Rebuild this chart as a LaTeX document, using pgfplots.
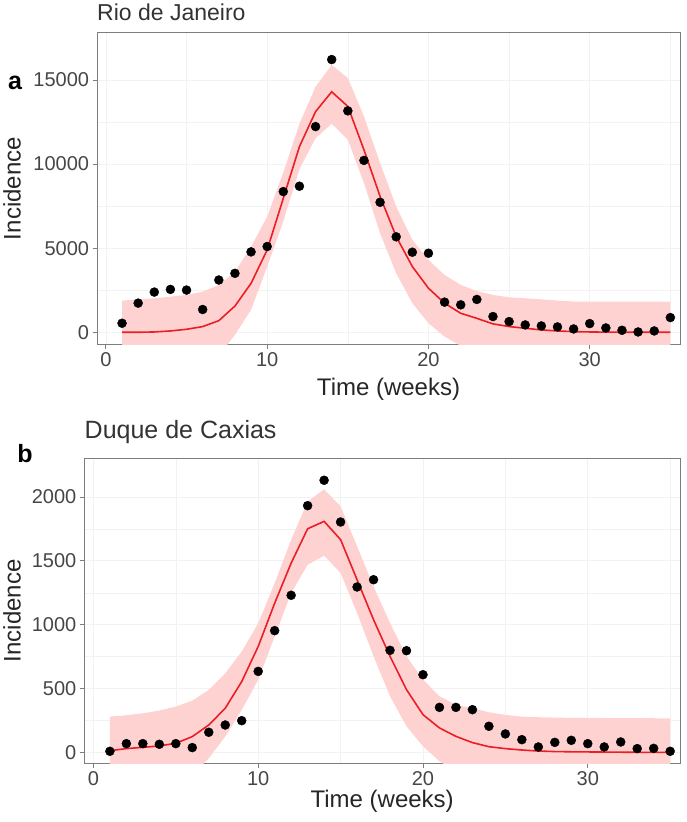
\documentclass[border=0pt]{standalone}
\usepackage{pgfplots}
\pgfplotsset{compat=1.18}
\usepackage{pgfplotstable}
\usepackage{fontspec}
\setmainfont{Liberation Sans}
\definecolor{ribbon}{RGB}{255,210,210}
\definecolor{fitred}{RGB}{234,30,36}
\definecolor{tickgrey}{RGB}{70,70,70}
\definecolor{framegrey}{RGB}{125,125,125}
\definecolor{gridgrey}{RGB}{242,242,242}

% Rio de Janeiro: observed and fitted mean
\pgfplotstableread{
t obs mean
1 538 0
2 1733 0
3 2390 20
4 2550 80
5 2510 180
6 1355 340
7 3108 690
8 3506 1560
9 4781 2910
10 5100 4900
11 8367 7970
12 8685 11040
13 12231 13120
14 16215 14300
15 13167 13430
16 10219 10850
17 7729 8080
18 5677 5690
19 4761 3910
20 4701 2620
21 1793 1730
22 1633 1130
23 1952 830
24 936 500
25 637 340
26 438 240
27 378 140
28 319 80
29 199 40
30 518 20
31 259 10
32 120 5
33 20 0
34 80 0
35 876 0
}\rio

% Rio de Janeiro: band (upper forward, lower backward)
\pgfplotstableread{
t y
1 1880
2 1960
3 2020
4 2120
5 2220
6 2420
7 2810
8 3600
9 5090
10 6880
11 9500
12 12400
13 14600
14 15900
15 15120
16 12840
17 10060
18 7480
19 5500
20 4300
21 3410
22 2820
23 2450
24 2220
25 2080
26 2020
27 1960
28 1890
29 1830
30 1830
31 1830
32 1830
33 1830
34 1830
35 1830
35 -1400
34 -1400
33 -1400
32 -1400
31 -1400
30 -1400
29 -1400
28 -1400
27 -1400
26 -1400
25 -1300
24 -1200
23 -1000
22 -800
21 -260
20 540
19 1730
18 3510
17 5890
16 8870
15 11450
14 12400
13 11540
12 9700
11 6600
10 3900
9 1330
8 -150
7 -1400
6 -1900
5 -2000
4 -2000
3 -2000
2 -2000
1 -2000
}\rioband

% Duque de Caxias: observed and fitted mean
\pgfplotstableread{
t obs mean
1 8 13
2 68 29
3 68 39
4 63 50
5 68 71
6 37 123
7 157 214
8 214 345
9 248 554
10 634 829
11 953 1168
12 1230 1482
13 1932 1751
14 2131 1809
15 1804 1666
16 1295 1352
17 1352 1039
18 799 752
19 796 491
20 608 295
21 352 191
22 352 125
23 334 76
24 204 44
25 144 29
26 99 18
27 42 10
28 78 6
29 94 4
30 68 3
31 42 2
32 81 1
33 29 0
34 31 0
35 8 0
}\caxias

% Duque de Caxias: band (upper forward, lower backward)
\pgfplotstableread{
t y
1 280
2 290
3 306
4 327
5 358
6 405
7 489
8 619
9 789
10 1011
11 1325
12 1665
13 1965
14 2060
15 1927
16 1614
17 1300
18 1013
19 752
20 569
21 439
22 373
23 345
24 314
25 293
26 280
27 275
28 272
29 270
30 270
31 268
32 268
33 267
34 267
35 265
35 -250
34 -250
33 -250
32 -250
31 -250
30 -250
29 -250
28 -250
27 -250
26 -240
25 -230
24 -220
23 -200
22 -150
21 -70
20 47
19 204
18 439
17 752
16 1091
15 1405
14 1540
13 1469
12 1247
11 907
10 567
9 332
8 123
7 -47
6 -180
5 -240
4 -250
3 -250
2 -250
1 -250
}\caxiasband

\pgfplotsset{
  myaxis/.style={
    scale only axis, anchor=south west,
    axis line style={framegrey, line width=1pt},
    tick align=outside, xtick pos=bottom, ytick pos=left,
    major tick length=4.5pt, minor tick length=0pt,
    major tick style={framegrey, line width=0.9pt},
    tick label style={font=\fontsize{20}{24}\selectfont, text=tickgrey},
    /pgf/number format/assume math mode=true,
    /pgf/number format/fixed,
    /pgf/number format/1000 sep={},
    scaled y ticks=false,
    label style={font=\fontsize{24}{28}\selectfont, text=black!85},
    grid=both,
    major grid style={gridgrey, line width=0.7pt},
    minor grid style={gridgrey, line width=0.4pt},
    xtick={0,10,20,30}, minor xtick={5,15,25,35},
    xmin=-0.55, xmax=35.6,
    xlabel={Time (weeks)}, ylabel={Incidence},
  }
}

\begin{document}
\begin{tikzpicture}
\path (0,0) rectangle (685pt,822pt);

\begin{axis}[myaxis,
  at={(96pt,477pt)}, width=583pt, height=312.7pt,
  ymin=-755, ymax=17836,
  ytick={0,5000,10000,15000}, minor ytick={2500,7500,12500},
  xlabel style={at={(axis description cs:0.5,-0.16)}, anchor=base},
  ylabel style={at={(axis description cs:-0.1309,0.5)}, anchor=base},
]
\addplot[fill=ribbon, draw=none] table[x=t,y=y]{\rioband};
\addplot[fitred, line width=1.6pt, no marks] table[x=t,y=mean]{\rio};
\addplot[only marks, mark=*, mark size=4.5pt, black] table[x=t,y=obs]{\rio};
\end{axis}

\begin{axis}[myaxis,
  at={(83.3pt,58.7pt)}, width=595.7pt, height=305pt,
  ymin=-86, ymax=2303,
  ytick={0,500,1000,1500,2000}, minor ytick={250,750,1250,1750},
  xlabel style={at={(axis description cs:0.5,-0.1443)}, anchor=base},
  ylabel style={at={(axis description cs:-0.1068,0.5)}, anchor=base},
]
\addplot[fill=ribbon, draw=none] table[x=t,y=y]{\caxiasband};
\addplot[fitred, line width=1.6pt, no marks] table[x=t,y=mean]{\caxias};
\addplot[only marks, mark=*, mark size=4.5pt, black] table[x=t,y=obs]{\caxias};
\end{axis}

\node[anchor=base west, inner sep=0pt, text=black!80, font=\fontsize{23}{27}\selectfont] at (96pt,801.5pt) {Rio de Janeiro};
\node[anchor=base west, inner sep=0pt, text=black!80, font=\fontsize{25}{29}\selectfont] at (83.5pt,383.5pt) {Duque de Caxias};
\node[anchor=base, inner sep=0pt, font=\fontsize{25}{29}\selectfont\bfseries] at (14pt,732.7pt) {a};
\node[anchor=base, inner sep=0pt, font=\fontsize{25}{29}\selectfont\bfseries] at (24pt,359.3pt) {b};
\end{tikzpicture}
\end{document}
